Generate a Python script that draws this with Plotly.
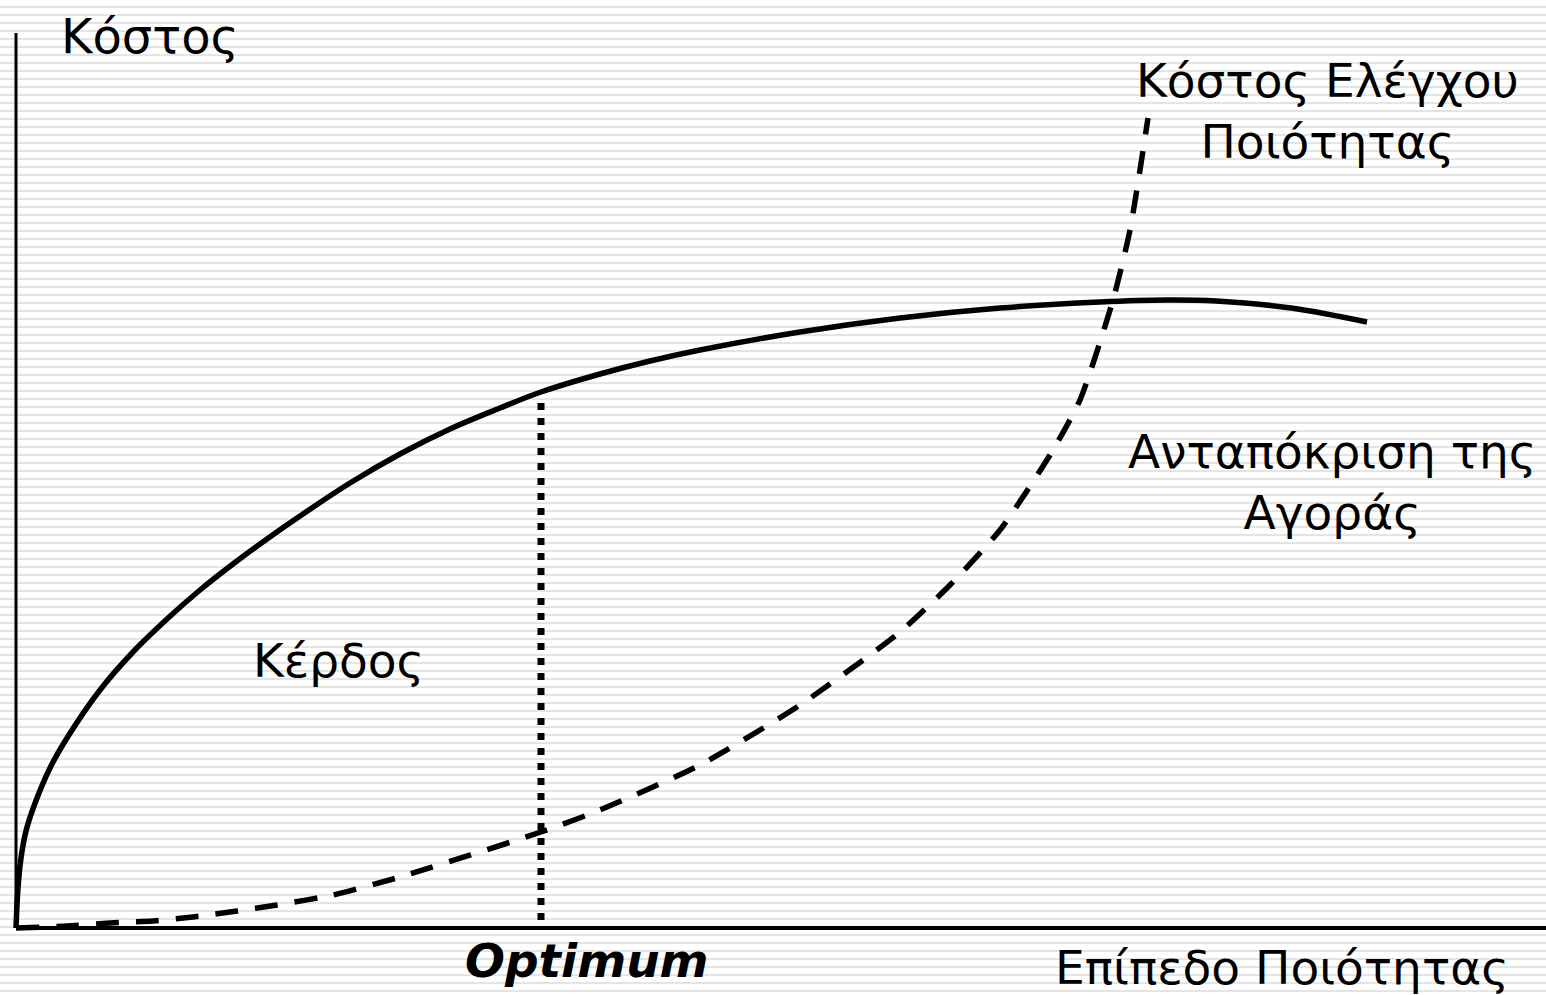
"""Καμπύλες κόστους ελέγχου ποιότητας και ανταπόκρισης της αγοράς."""

import plotly.graph_objects as go

# Επίπεδο ποιότητας (άξονας x) και τιμές των δύο καμπυλών
epipedo_agoras = [0, 2, 5, 10, 18, 34, 51, 84, 117, 151, 184, 217, 251, 284, 334,
                  384, 434, 484, 525, 584, 634, 684, 784, 884, 984, 1084, 1150,
                  1200, 1275, 1351]
antapokrisi_agoras = [0, 40, 70, 97, 122, 160, 190, 238, 276, 309, 338, 364, 389,
                      412, 445, 474, 499, 520, 536, 554, 567, 578, 596, 610, 620,
                      626, 628, 627, 620, 606]

epipedo_elegxou = [0, 51, 94, 137, 177, 221, 261, 317, 384, 525, 584, 684, 784,
                   884, 934, 984, 1034, 1064, 1097, 1114, 1132]
kostos_elegxou = [0, 2, 5, 7, 11, 17, 23, 33, 51, 96, 118, 163, 223, 296, 343,
                  398, 473, 528, 628, 698, 810]

optimum_x = 525
optimum_y = 536

FONT = "DejaVu Sans"

fig = go.Figure()

# Ανταπόκριση της αγοράς (συνεχής)
fig.add_trace(go.Scatter(
    x=epipedo_agoras, y=antapokrisi_agoras, mode="lines",
    line=dict(color="black", width=5.5, shape="spline", smoothing=1),
    hoverinfo="skip", showlegend=False,
))

# Κόστος ελέγχου ποιότητας (διακεκομμένη)
fig.add_trace(go.Scatter(
    x=epipedo_elegxou, y=kostos_elegxou, mode="lines",
    line=dict(color="black", width=5.5, dash="23px,17px", shape="spline", smoothing=0.6),
    hoverinfo="skip", showlegend=False,
))

# Κατακόρυφη γραμμή στο optimum
fig.add_trace(go.Scatter(
    x=[optimum_x, optimum_x], y=[8, optimum_y - 6], mode="lines",
    line=dict(color="black", width=7, dash="7px,8px"),
    hoverinfo="skip", showlegend=False,
))

# Άξονες
fig.add_shape(type="line", x0=0, x1=1530, y0=0, y1=0,
              line=dict(color="black", width=4), layer="above")
fig.add_shape(type="line", x0=0, x1=0, y0=0, y1=895,
              line=dict(color="black", width=3), layer="above")

def keimeno(text, x, y, xanchor="left", size=47, **kw):
    fig.add_annotation(text=text, x=x, y=y, xref="x", yref="y",
                       xanchor=xanchor, yanchor="middle", showarrow=False,
                       font=dict(family=FONT, size=size, color="black"), **kw)

keimeno("Κόστος", 43, 892, size=48)
keimeno("Κόστος Ελέγχου<br>Ποιότητας", 1311, 817, xanchor="center", align="center")
keimeno("Ανταπόκριση της<br>Αγοράς", 1316, 446, xanchor="center", align="center")
keimeno("Κέρδος", 235, 268)
keimeno("<b><i>Optimum</i></b>", 571, -32, xanchor="center")
keimeno("Επίπεδο Ποιότητας", 1266, -39, xanchor="center")

fig.update_layout(
    width=1546, height=995,
    margin=dict(l=0, r=0, t=0, b=0),
    paper_bgcolor="white", plot_bgcolor="white",
    showlegend=False,
)
fig.update_xaxes(range=[-16, 1530], showgrid=False, zeroline=False,
                 showticklabels=False, ticks="", fixedrange=True)
fig.update_yaxes(range=[-67, 928], showgrid=True, gridcolor="#e4e4e4", gridwidth=2,
                 dtick=8, tick0=0.7, zeroline=False, showticklabels=False, ticks="",
                 fixedrange=True)

fig.write_html("out.html", config={"displayModeBar": False},
               post_script="document.body.style.margin='0';")
